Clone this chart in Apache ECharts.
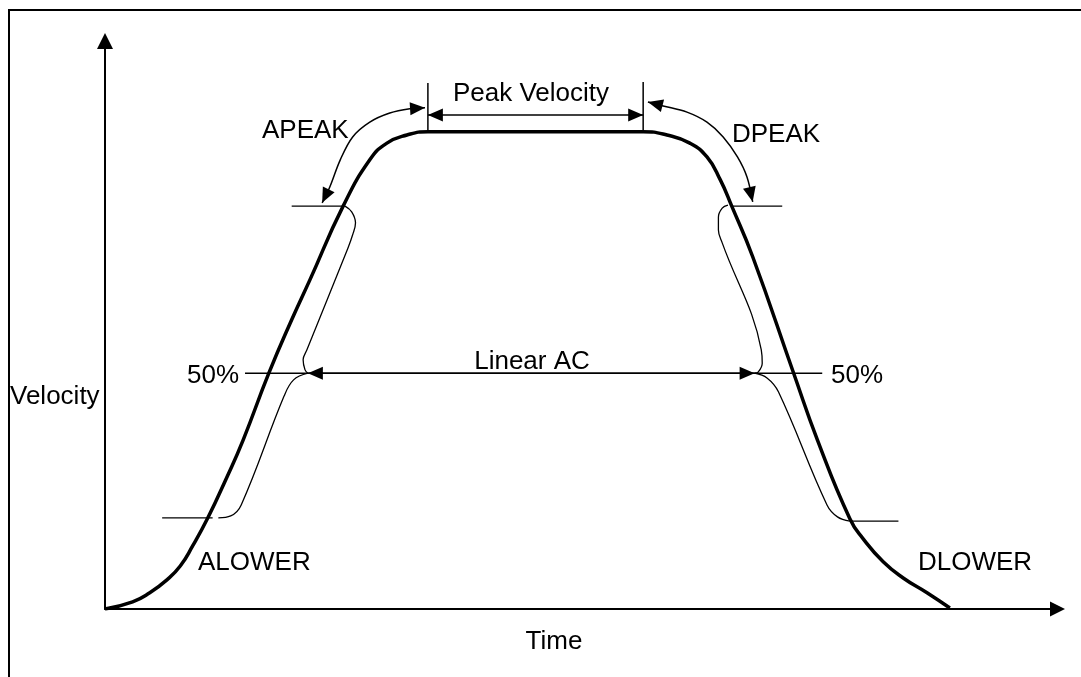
<!DOCTYPE html>
<html>
<head>
<meta charset="utf-8">
<script src="https://cdn.jsdelivr.net/npm/echarts@6/dist/echarts.min.js"></script>
<style>
html,body{margin:0;padding:0;background:#fff;}
#chart{width:1081px;height:677px;}
</style>
</head>
<body>
<div id="chart"></div>
<script>
// ---- Main velocity profile (time units 0..100, velocity % of peak) ----
const curveTime = [0, 2.9, 4.7, 6.5, 7.9, 9.2, 10.8, 12.7, 14.5, 17.2, 19.6, 21.5, 25.0, 27.8, 29.6, 31.7, 33.9, 56.5, 59.0, 61.4, 63.2, 64.6, 65.8, 68.0, 72.3, 74.8, 78.2, 79.6, 81.7, 83.8, 86.3, 88.7];
const curveVelocity = [0, 1.5, 3.4, 6.1, 9.0, 13.2, 19.1, 27.2, 35.4, 49.4, 60.6, 68.9, 84.4, 94.1, 97.6, 99.3, 100, 100, 99.3, 97.6, 94.7, 89.9, 84.4, 73.8, 49.4, 35.4, 18.9, 14.7, 9.9, 6.5, 3.4, 0.2];

// ---- Brackets ----
const leftUpperBracketT = [25.2, 25.9, 26.3, 26.0, 25.5, 21.2, 20.8, 21.0, 21.3];
const leftUpperBracketV = [84.4, 83.2, 80.9, 78.4, 75.6, 54.3, 52.2, 50.1, 49.4];
const leftLowerBracketT = [21.3, 19.8, 18.8, 14.3, 13.2, 11.9];
const leftLowerBracketV = [49.4, 48.0, 44.6, 21.8, 19.5, 19.1];
const rightUpperBracketT = [65.4, 64.8, 64.4, 64.4, 64.8, 68.9, 69.0, 68.6, 68.2];
const rightUpperBracketV = [84.6, 84.0, 82.1, 79.4, 76.7, 54.3, 51.5, 49.7, 49.4];
const rightLowerBracketT = [68.2, 69.5, 70.7, 75.8, 76.9, 78.2];
const rightLowerBracketV = [49.4, 48.4, 45.5, 21.8, 19.3, 18.4];

// ---- Level marks ----
const apeakLevelT = [19.6, 25.2], apeakLevelV = [84.4, 84.4];
const dpeakLevelT = [65.8, 71.1], dpeakLevelV = [84.4, 84.4];
const alowerLevelT = [6.0, 11.3], alowerLevelV = [19.1, 19.1];
const dlowerLevelT = [78.3, 83.3], dlowerLevelV = [18.4, 18.4];
const halfLevelT = [14.7, 75.3], halfLevelV = [49.4, 49.4];
const peakStartMarkT = [33.9, 33.9], peakStartMarkV = [100, 110.2];
const peakEndMarkT = [56.5, 56.5], peakEndMarkV = [100, 110.4];

// ---- Arrows (double headed) ----
const peakArrowT = [33.9, 56.5], peakArrowV = [103.5, 103.5];
const linearArrowT = [21.3, 68.2], linearArrowV = [49.4, 49.4];
const apeakArcT = [22.8, 23.6, 24.7, 26.0, 27.8, 29.9, 32.0, 33.6];
const apeakArcV = [85.1, 88.4, 94.1, 98.9, 102.0, 103.9, 104.8, 105.0];
const dpeakArcT = [57.0, 58.6, 61.1, 63.2, 64.9, 66.4, 67.4, 68.0];
const dpeakArcV = [106.2, 105.4, 104.1, 102.0, 98.9, 94.7, 90.5, 85.3];

// ---- Texts ----
const axisNames = {x: 'Time', y: 'Velocity'};
const labelTexts = ['Peak Velocity', 'APEAK', 'DPEAK', 'ALOWER', 'DLOWER', '50%', '50%', 'Linear AC'];

const zip = (t, v) => t.map((x, i) => [x, v[i]]);
const FONT = '26px "Liberation Sans", Arial, sans-serif';

function lineSeries(t, v, width, smooth) {
  return {
    type: 'line', data: zip(t, v), symbol: 'none', smooth: smooth || false,
    lineStyle: {color: '#000', width: width}, silent: true, z: 3
  };
}

const arrows = [
  {t: peakArrowT, v: peakArrowV, smooth: 0},
  {t: linearArrowT, v: linearArrowV, smooth: 0},
  {t: apeakArcT, v: apeakArcV, smooth: 0.35},
  {t: dpeakArcT, v: dpeakArcV, smooth: 0.35}
];

function head(tip, prev, L, W) {
  const dx = tip[0] - prev[0], dy = tip[1] - prev[1];
  const len = Math.sqrt(dx * dx + dy * dy) || 1;
  const ux = dx / len, uy = dy / len;
  const bx = tip[0] - ux * L, by = tip[1] - uy * L;
  return [tip, [bx - uy * W, by + ux * W], [bx + uy * W, by - ux * W]];
}

function renderArrow(params, api) {
  const a = arrows[params.dataIndex];
  const pts = a.t.map((x, i) => api.coord([x, a.v[i]]));
  const n = pts.length;
  return {
    type: 'group',
    children: [
      {type: 'polyline', shape: {points: pts, smooth: a.smooth}, style: {stroke: '#000', lineWidth: 1.5, fill: null}},
      {type: 'polygon', shape: {points: head(pts[0], pts[1], 15, 6.5)}, style: {fill: '#000'}},
      {type: 'polygon', shape: {points: head(pts[n - 1], pts[n - 2], 15, 6.5)}, style: {fill: '#000'}}
    ]
  };
}

function txt(text, x, y, align) {
  return {
    type: 'text', x: x, y: y, silent: true, z: 10,
    style: {text: text, font: FONT, fill: '#000', textAlign: align || 'left', align: align || 'left',
            textVerticalAlign: 'middle', verticalAlign: 'middle'}
  };
}

const chart = echarts.init(document.getElementById('chart'), null, {renderer: 'canvas'});
chart.setOption({
  animation: false,
  backgroundColor: '#fff',
  grid: {left: 105, right: 23.5, top: 41, bottom: 68, containLabel: false},
  xAxis: {
    type: 'value', min: 0, max: 100,
    axisLine: {show: true, onZero: false, symbol: ['none', 'triangle'], symbolSize: [15, 15], lineStyle: {color: '#000', width: 2}},
    axisTick: {show: false}, axisLabel: {show: false}, splitLine: {show: false}
  },
  yAxis: {
    type: 'value', min: 0, max: 119,
    axisLine: {show: true, onZero: false, symbol: ['none', 'triangle'], symbolSize: [16, 16], lineStyle: {color: '#000', width: 2}},
    axisTick: {show: false}, axisLabel: {show: false}, splitLine: {show: false}
  },
  series: [
    Object.assign(lineSeries(curveTime, curveVelocity, 3.5, 0.5), {z: 5}),
    lineSeries(leftUpperBracketT, leftUpperBracketV, 1.3, 0.4),
    lineSeries(leftLowerBracketT, leftLowerBracketV, 1.3, 0.4),
    lineSeries(rightUpperBracketT, rightUpperBracketV, 1.3, 0.4),
    lineSeries(rightLowerBracketT, rightLowerBracketV, 1.3, 0.4),
    lineSeries(apeakLevelT, apeakLevelV, 1.4),
    lineSeries(dpeakLevelT, dpeakLevelV, 1.4),
    lineSeries(alowerLevelT, alowerLevelV, 1.4),
    lineSeries(dlowerLevelT, dlowerLevelV, 1.4),
    lineSeries(halfLevelT, halfLevelV, 1.5),
    lineSeries(peakStartMarkT, peakStartMarkV, 1.5),
    lineSeries(peakEndMarkT, peakEndMarkV, 1.5),
    {
      type: 'custom', renderItem: renderArrow, clip: false, silent: true, z: 4,
      data: arrows.map(a => [a.t[0], a.v[0]])
    }
  ],
  graphic: [
    {type: 'rect', shape: {x: 9, y: 10, width: 1100, height: 700}, style: {fill: null, stroke: '#000', lineWidth: 2}, silent: true, z: 1},
    txt(labelTexts[0], 531, 94, 'center'),
    txt(labelTexts[1], 262, 131),
    txt(labelTexts[2], 732, 135),
    txt(labelTexts[3], 198, 563),
    txt(labelTexts[4], 918, 563),
    txt(labelTexts[5], 187, 376),
    txt(labelTexts[6], 831, 376),
    txt(labelTexts[7], 532, 362, 'center'),
    txt(axisNames.y, 10, 397),
    txt(axisNames.x, 554, 642, 'center')
  ]
});
</script>
</body>
</html>
